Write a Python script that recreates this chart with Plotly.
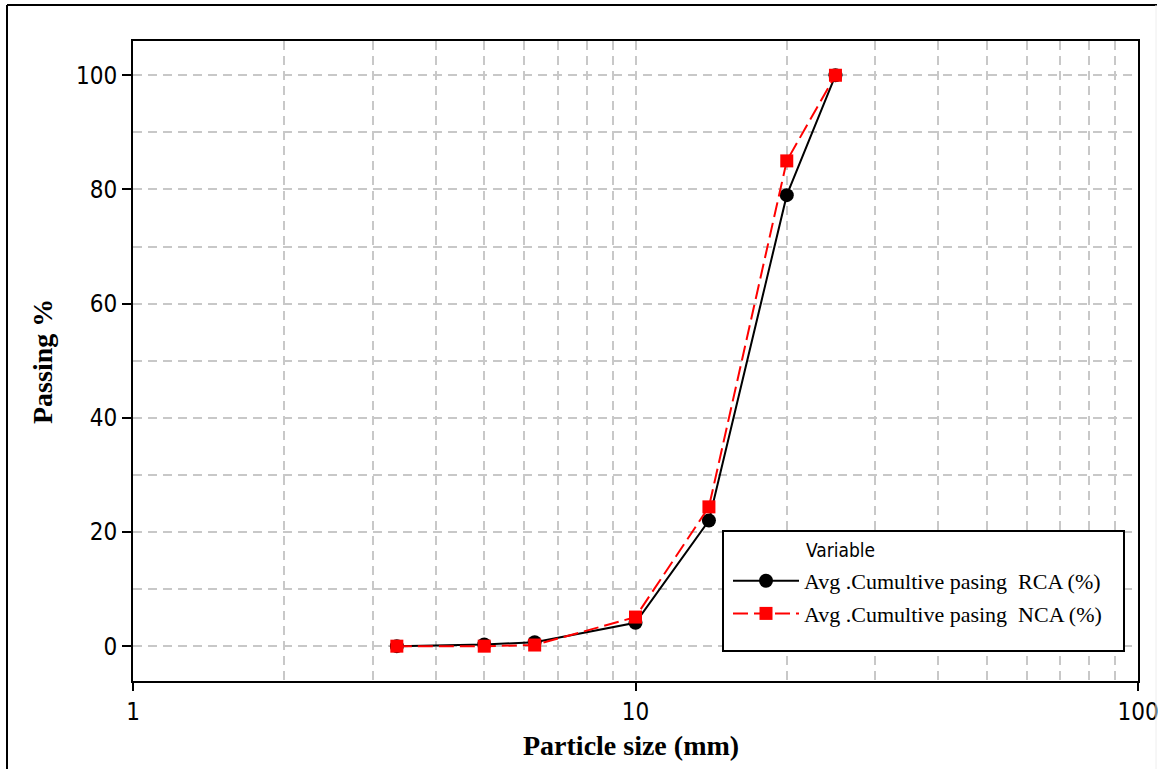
import plotly.graph_objects as go

# Sieve sizes (mm) and cumulative passing (%)
sizes = [3.35, 5, 6.3, 10, 14, 20, 25]
rca_passing = [0, 0.3, 0.7, 4.1, 22, 79, 100]
nca_passing = [0, 0, 0.2, 5.1, 24.4, 85, 100]

rca_name = "Avg .Cumultive pasing  RCA (%)"
nca_name = "Avg .Cumultive pasing  NCA (%)"
legend_heading = "Variable"
x_title = "Particle size (mm)"
y_title = "Passing %"

x_major = [1, 10, 100]
x_minor = [2, 3, 4, 5, 6, 7, 8, 9, 20, 30, 40, 50, 60, 70, 80, 90]

W, H = 1171, 769
ML, MR, MT, MB = 133, 33, 41, 88
PW, PH = W - ML - MR, H - MT - MB


def px(x):
    return (x - ML) / PW


def py(y):
    return (H - MB - y) / PH


TICK_FONT = dict(family="DejaVu Sans Condensed, DejaVu Sans", size=24, color="black")
TITLE_FONT = dict(family="Liberation Serif", size=28, color="black")
GRID = "#c8c8c8"

fig = go.Figure()
fig.add_trace(go.Scatter(
    x=sizes, y=rca_passing, name=rca_name, mode="lines+markers",
    line=dict(color="black", width=2),
    marker=dict(symbol="circle", size=14, color="black"),
    legendgroup="rca",
))
fig.add_trace(go.Scatter(
    x=sizes, y=nca_passing, name=nca_name, mode="lines+markers",
    line=dict(color="#ff0000", width=2, dash="15px,6px"),
    marker=dict(symbol="square", size=13, color="#ff0000"),
    legendgroup="nca",
))

fig.update_xaxes(
    type="log", range=[0, 2],
    tickvals=x_major, ticktext=[str(v) for v in x_major],
    ticks="outside", ticklen=8, tickwidth=2, tickcolor="black",
    tickfont=TICK_FONT,
    showline=True, linecolor="black", linewidth=2, mirror=True,
    showgrid=True, gridcolor=GRID, gridwidth=1.5, griddash="9px,6px",
    minor=dict(tickvals=x_minor, showgrid=True, gridcolor=GRID,
               gridwidth=1.5, griddash="9px,6px", ticks=""),
    zeroline=False,
)
fig.update_yaxes(
    range=[-6.1, 106], tickmode="linear", tick0=0, dtick=20,
    ticks="outside", ticklen=9, tickwidth=2, tickcolor="black",
    tickfont=TICK_FONT,
    showline=True, linecolor="black", linewidth=2, mirror=True,
    showgrid=True, gridcolor=GRID, gridwidth=1.5, griddash="9px,6px",
    minor=dict(dtick=10, tick0=0, showgrid=True, gridcolor=GRID,
               gridwidth=1.5, griddash="9px,6px", ticks=""),
    zeroline=False,
)

shapes = [
    # legend frame
    dict(type="rect", xref="paper", yref="paper",
         x0=px(723), x1=px(1124), y0=py(651), y1=py(531),
         line=dict(color="black", width=2), fillcolor="white", layer="above"),
    # outer figure frame
    dict(type="line", xref="paper", yref="paper",
         x0=px(7), x1=px(1157), y0=py(5), y1=py(5),
         line=dict(color="black", width=2)),
    dict(type="line", xref="paper", yref="paper",
         x0=px(7), x1=px(7), y0=py(5), y1=py(780),
         line=dict(color="black", width=2)),
    dict(type="line", xref="paper", yref="paper",
         x0=px(1156), x1=px(1156), y0=py(5), y1=py(780),
         line=dict(color="#eeeeee", width=1)),
]

annotations = [
    dict(text=x_title, xref="paper", yref="paper", x=0.496, y=py(745),
         xanchor="center", yanchor="middle", showarrow=False,
         font=dict(TITLE_FONT, weight="bold")),
    dict(text=y_title, xref="paper", yref="paper", x=px(42), y=py(362),
         xanchor="center", yanchor="middle", showarrow=False, textangle=-90,
         font=dict(TITLE_FONT, weight="bold")),
    dict(text=legend_heading, xref="paper", yref="paper", x=px(804), y=py(550),
         xanchor="left", yanchor="middle", showarrow=False,
         font=dict(family="DejaVu Sans Condensed, DejaVu Sans", size=19, color="black")),
]

fig.update_layout(
    width=W, height=H, autosize=False,
    margin=dict(l=ML, r=MR, t=MT, b=MB, pad=0),
    paper_bgcolor="white", plot_bgcolor="white",
    shapes=shapes, annotations=annotations,
    showlegend=True,
    legend=dict(
        x=px(728), y=py(560), xanchor="left", yanchor="top",
        bgcolor="rgba(0,0,0,0)", borderwidth=0,
        font=dict(family="Liberation Serif", size=22, color="black"),
        itemwidth=66, tracegroupgap=1,
    ),
)

fig.write_html("out.html")
